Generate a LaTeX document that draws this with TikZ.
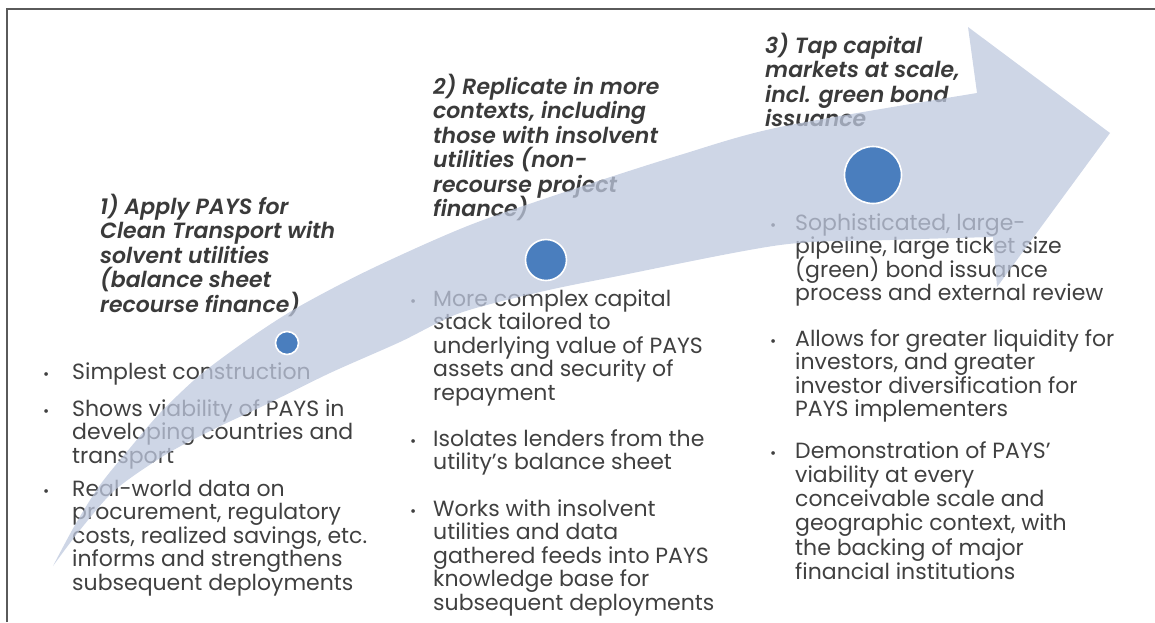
\documentclass[tikz,border=0pt]{standalone}
\usepackage{fontspec}
\setmainfont{Poppins}[BoldFont={* SemiBold}, BoldItalicFont={* SemiBold Italic}]
\definecolor{txtgray}{RGB}{64,64,64}
\definecolor{headgray}{RGB}{58,58,58}
\definecolor{bandcol}{RGB}{190,200,222}
\definecolor{dotblue}{RGB}{74,126,190}
\definecolor{framegray}{RGB}{90,90,90}
\newcommand{\mlines}[1]{\vtop{\lineskiplimit=-100pt\halign{##\hfil\cr#1\crcr}}}
\begin{document}
\begin{tikzpicture}[x=1pt,y=-1pt,
  body/.style={anchor=base west, inner sep=0pt, text=txtgray,
    font=\fontsize{22}{23.5}\selectfont},
  head/.style={anchor=base west, inner sep=0pt, text=headgray,
    font=\fontsize{22}{24.5}\selectfont\bfseries\itshape},
  bul/.style={anchor=base west, inner sep=0pt, text=txtgray, font=\fontsize{15}{16}\selectfont},
  stage/.style={circle, fill=dotblue, draw=white, line width=1.6pt, inner sep=0pt}
]
\useasboundingbox (0,0) rectangle (1155,622);
\draw[framegray, line width=1.4pt] (7,622) -- (7,9) -- (1155,9);

% headings
\node[head] (h1) at (100,214) {\mlines{1) Apply PAYS for\cr Clean Transport with\cr solvent utilities\cr (balance sheet\cr recourse finance)}};
\node[head] (h2) at (433,94) {\mlines{2) Replicate in more\cr contexts, including\cr those with insolvent\cr utilities (non-\cr recourse project\cr finance)}};
\node[head] (h3) at (765,53) {\mlines{3) Tap capital\cr markets at scale,\cr incl. green bond\cr issuance}};

% column 1
\node[bul] (b11) at (43,379) {•};
\node[body] (t11) at (72,379) {\mlines{Simplest construction}};
\node[bul] (b12) at (43,416) {•};
\node[body] (t12) at (72,416) {\mlines{Shows viability of PAYS in\cr developing countries and\cr transport}};
\node[bul] (b13) at (43,496) {•};
\node[body] (t13) at (72,496) {\mlines{Real-world data on\cr procurement, regulatory\cr costs, realized savings, etc.\cr informs and strengthens\cr subsequent deployments}};

% column 2
\node[bul] (b21) at (410,306) {•};
\node[body] (t21) at (433,306) {\mlines{More complex capital\cr stack tailored to\cr underlying value of PAYS\cr assets and security of\cr repayment}};
\node[bul] (b22) at (410,446) {•};
\node[body] (t22) at (433,446) {\mlines{Isolates lenders from the\cr utility's balance sheet}};
\node[bul] (b23) at (410,516) {•};
\node[body] (t23) at (433,516) {\mlines{Works with insolvent\cr utilities and data\cr gathered feeds into PAYS\cr knowledge base for\cr subsequent deployments}};

% column 3
\node[bul] (b31) at (770,230) {•};
\node[body] (t31) at (795,230) {\mlines{Sophisticated, large-\cr pipeline, large ticket size\cr (green) bond issuance\cr process and external review}};
\node[bul] (b32) at (770,346) {•};
\node[body] (t32) at (795,346) {\mlines{Allows for greater liquidity for\cr investors, and greater\cr investor diversification for\cr PAYS implementers}};
\node[bul] (b33) at (770,458) {•};
\node[body, font=\fontsize{22}{24.3}\selectfont] (t33) at (795,458) {\mlines{Demonstration of PAYS'\cr viability at every\cr conceivable scale and\cr geographic context, with\cr the backing of major\cr financial institutions}};

% curved arrow band
\fill[bandcol, fill opacity=0.75]
  plot[smooth, tension=0.5] coordinates {(53,566) (75,525) (100,485) (130,448) (160,413) (200,375) (250,338) (300,306) (373,268) (470,225) (577,188) (680,155) (780,127) (977,93)}
  -- (968,27) -- (1110,133) -- (997,287) -- (993,237)
  -- plot[smooth, tension=0.5] coordinates {(993,237) (890,240) (780,245) (613,277) (540,292) (460,313) (400,342) (330,373) (265,405) (212,430) (165,455) (115,490) (80,530) (53,566)}
  -- cycle;

% stage markers
\node[stage, minimum size=23pt] (c1) at (287,343) {};
\node[stage, minimum size=41pt] (c2) at (546,260) {};
\node[stage, minimum size=57pt] (c3) at (873,175) {};
\end{tikzpicture}
\end{document}
